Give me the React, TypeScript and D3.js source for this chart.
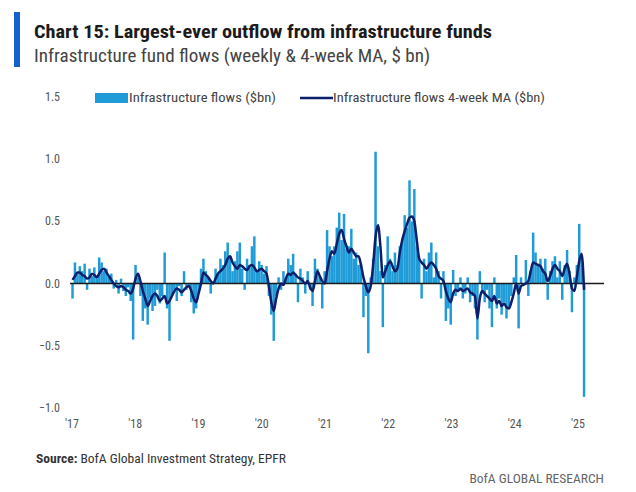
import React from "react";
import * as d3 from "d3";

const startDate = "2017-01-04";
const stepDays = 14;

const flows: number[] = [
  -0.12, 0.17, 0.08, 0.14, 0.1, 0.16, -0.05, 0.12, 0.06, 0.13,
  0.04, 0.21, 0.17, 0.1, 0.12, 0.05, 0.08, -0.04, 0.03, -0.08,
  0.04, -0.06, -0.1, -0.03, -0.14, -0.45, 0.15, 0.05, -0.1, -0.3,
  -0.2, -0.33, -0.12, -0.22, -0.18, -0.05, -0.16, -0.1, 0.25, -0.2,
  -0.46, -0.1, -0.05, -0.14, -0.02, -0.1, 0.1, -0.05, -0.02, -0.15,
  -0.24, -0.2, -0.08, 0.12, 0.2, 0.1, 0.05, -0.08, 0.02, 0.12,
  0.08, 0.2, 0.15, 0.26, 0.33, 0.22, 0.1, 0.18, 0.26, 0.33,
  0.12, -0.05, 0.2, 0.15, 0.3, 0.38, 0.1, 0.18, 0.15, 0.08,
  0.14, -0.1, -0.25, -0.46, -0.1, 0.05, -0.05, 0.1, 0.05, 0.2,
  0.15, 0.24, 0.08, -0.15, 0.12, 0.05, -0.08, 0.1, -0.05, -0.18,
  0.2, 0.12, 0.05, -0.2, 0.1, 0.43, 0.3, 0.22, 0.3, 0.45,
  0.57, 0.35, 0.56, 0.28, 0.3, 0.44, 0.2, 0.25, 0.15, 0.16,
  -0.27, -0.1, -0.56, 0.05, 0.2, 1.06, 0.3, 0.1, -0.35, 0.15,
  0.38, 0.2, 0.1, 0.25, 0.15, 0.3, 0.36, 0.55, 0.45, 0.83,
  0.5, 0.76, 0.3, 0.2, -0.12, 0.2, 0.1, 0.25, 0.33, 0.05,
  0.25, 0.1, -0.12, 0.1, -0.3, -0.2, -0.33, 0.11, -0.1, -0.05,
  0.05, -0.12, -0.08, 0.05, -0.15, -0.1, -0.2, -0.45, 0.1, -0.08,
  -0.15, -0.05, -0.2, -0.35, 0.05, -0.2, -0.12, -0.25, -0.15, -0.28,
  -0.2, -0.1, 0.05, 0.23, -0.36, 0.05, 0.0, 0.19, -0.1, 0.1,
  0.41, 0.25, 0.15, 0.2, 0.12, 0.2, -0.13, 0.1, 0.18, 0.22,
  0.05, 0.18, -0.13, 0.15, 0.27, 0.1, -0.23, 0.05, 0.15, 0.48,
  0.2, -0.91,
];

const movingAvg: number[] = [
  0.03, 0.06, 0.09, 0.09, 0.07, 0.06, 0.04, 0.05, 0.08, 0.07,
  0.05, 0.08, 0.11, 0.12, 0.09, 0.06, 0.03, 0.0, -0.02, -0.03,
  -0.02, -0.03, -0.05, -0.06, -0.08, -0.04, 0.04, 0.08, 0.02, -0.06,
  -0.12, -0.18, -0.14, -0.1, -0.08, -0.1, -0.14, -0.12, -0.1, -0.16,
  -0.14, -0.1, -0.06, -0.04, -0.05, -0.07, -0.05, -0.03, -0.02, -0.06,
  -0.12, -0.15, -0.08, 0.0, 0.09, 0.07, 0.05, 0.02, 0.0, 0.04,
  0.08, 0.1, 0.12, 0.15, 0.2, 0.22, 0.17, 0.14, 0.12, 0.15,
  0.14, 0.12, 0.11, 0.14, 0.15, 0.13, 0.1, 0.11, 0.12, 0.1,
  0.08, -0.02, -0.15, -0.22, -0.12, -0.04, 0.0, -0.01, 0.04, 0.08,
  0.07, 0.09, 0.07, 0.05, 0.04, 0.02, 0.0, 0.02, -0.03, -0.06,
  0.02, 0.1, 0.06, 0.02, 0.0, 0.1, 0.2, 0.26, 0.24, 0.32,
  0.4, 0.43, 0.36, 0.3, 0.25, 0.28, 0.25, 0.22, 0.22, 0.15,
  0.05, -0.02, -0.07, -0.02, 0.15, 0.38, 0.47, 0.3, 0.05, 0.1,
  0.15, 0.18, 0.14, 0.1, 0.12, 0.25, 0.35, 0.42, 0.48, 0.53,
  0.54, 0.5, 0.35, 0.2, 0.17, 0.15, 0.12, 0.15, 0.17, 0.15,
  0.12, 0.06, 0.04, 0.02, -0.06, -0.12, -0.15, -0.08, -0.05, -0.06,
  -0.04, -0.06, -0.05, -0.04, -0.07, -0.08, -0.1, -0.28, -0.12, -0.06,
  -0.08, -0.1, -0.12, -0.14, -0.1, -0.16, -0.14, -0.18, -0.16, -0.19,
  -0.2, -0.15, -0.08, 0.0, -0.08, -0.02, -0.01, 0.0, 0.02, 0.1,
  0.17, 0.16, 0.15, 0.14, 0.1, 0.08, 0.02, 0.06, 0.12, 0.15,
  0.12, 0.1, 0.06, 0.12, 0.16, 0.08, -0.04, -0.06, 0.05, 0.18,
  0.24, -0.05,
];

const yTicks = [1.5, 1.0, 0.5, 0.0, -0.5, -1.0];
const yearLabels = ["'17", "'18", "'19", "'20", "'21", "'22", "'23", "'24", "'25"];
const yearStarts = [2017, 2018, 2019, 2020, 2021, 2022, 2023, 2024, 2025];

const TITLE = "Chart 15: Largest-ever outflow from infrastructure funds";
const SUBTITLE = "Infrastructure fund flows (weekly & 4-week MA, $ bn)";
const LEGEND_BARS = "Infrastructure flows ($bn)";
const LEGEND_LINE = "Infrastructure flows 4-week MA ($bn)";
const SOURCE_BOLD = "Source:";
const SOURCE_TEXT = " BofA Global Investment Strategy, EPFR";
const BRAND = "BofA GLOBAL RESEARCH";

const BAR = "#1f9bd7";
const LINE = "#0c1f6b";
const FONT = "'Liberation Sans Narrow', 'Roboto Condensed', 'Open Sans', sans-serif";

export default function App() {
  const parse = d3.timeParse("%Y-%m-%d");
  const t0 = parse(startDate) as Date;
  const dates = flows.map((_, i) => d3.timeDay.offset(t0, i * stepDays));

  const x = d3
    .scaleTime()
    .domain([new Date(2017, 0, 1), new Date(2025, 0, 1)])
    .range([72, 578]);
  const y = d3.scaleLinear().domain([-1, 1.5]).range([408, 97]);
  const y0 = y(0);
  const barW = (x(dates[1]) - x(dates[0])) * 1.02;

  const line = d3
    .line<number>()
    .x((_, i) => x(dates[i]))
    .y((d) => y(d))
    .curve(d3.curveMonotoneX);

  return (
    <svg
      width={636}
      height={492}
      style={{ position: "absolute", left: 0, top: 0, background: "#fff" }}
      fontFamily={FONT}
    >
      <rect x={0} y={0} width={636} height={492} fill="#fff" />
      <rect x={14} y={12} width={6} height={55} fill="#1560cf" />
      <text x={34} y={38} fontSize={18} fontWeight="bold" fill="#1b1b1b" textLength={458} lengthAdjust="spacingAndGlyphs">
        {TITLE}
      </text>
      <text x={34} y={62} fontSize={18} fill="#444" textLength={396} lengthAdjust="spacingAndGlyphs">
        {SUBTITLE}
      </text>

      {yTicks.map((t) => (
        <text key={t} x={60} y={y(t) + 4} fontSize={12} fill="#555" textAnchor="end">
          {d3.format(".1f")(t)}
        </text>
      ))}

      {yearStarts.map((yr, i) => (
        <text key={yr} x={x(new Date(yr, 0, 1))} y={428} fontSize={12} fill="#555" textAnchor="middle">
          {yearLabels[i]}
        </text>
      ))}

      <rect x={95} y={93} width={33} height={10} fill={BAR} />
      <text x={129} y={102} fontSize={12.5} fill="#444" textLength={147} lengthAdjust="spacingAndGlyphs">
        {LEGEND_BARS}
      </text>
      <line x1={300} x2={333} y1={98} y2={98} stroke={LINE} strokeWidth={2.5} />
      <text x={333} y={102} fontSize={12.5} fill="#444" textLength={212} lengthAdjust="spacingAndGlyphs">
        {LEGEND_LINE}
      </text>

      <g>
        {flows.map((v, i) => (
          <rect
            key={i}
            x={x(dates[i]) - barW / 2}
            y={Math.min(y(v), y0)}
            width={barW}
            height={Math.abs(y(v) - y0)}
            fill={BAR}
          />
        ))}
      </g>
      <line x1={70} x2={604} y1={y0} y2={y0} stroke="#1a1a1a" strokeWidth={1.5} />
      <path d={line(movingAvg) || ""} fill="none" stroke={LINE} strokeWidth={2.5} strokeLinejoin="round" />

      <text x={36} y={463} fontSize={13.5} fill="#333">
        <tspan fontWeight="bold">{SOURCE_BOLD}</tspan>
        <tspan>{SOURCE_TEXT}</tspan>
      </text>
      <text x={604} y={483} fontSize={13.5} fill="#666" textAnchor="end">
        {BRAND}
      </text>
    </svg>
  );
}
